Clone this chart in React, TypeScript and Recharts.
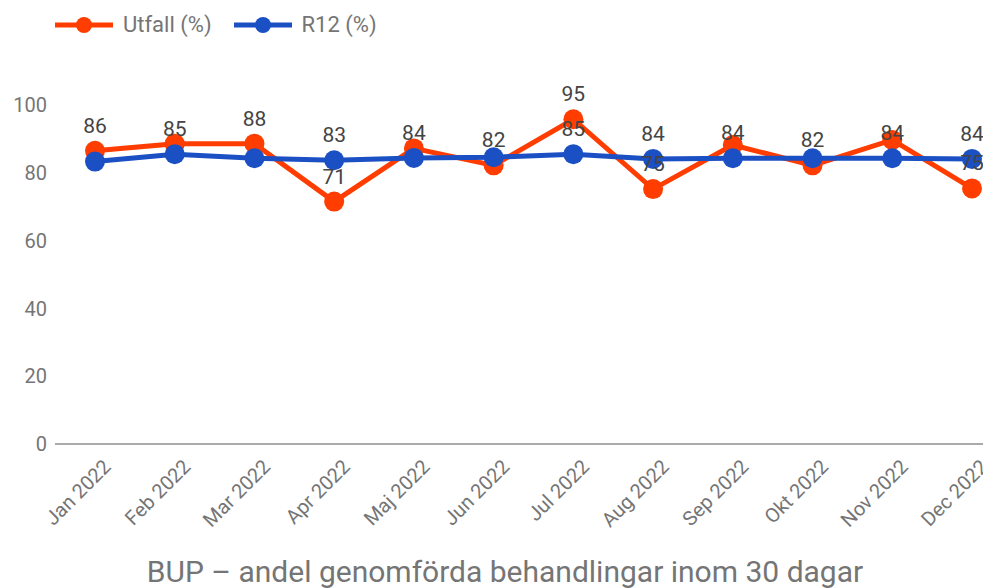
import { LineChart, Line, XAxis, YAxis, LabelList } from 'recharts'

const months = ['Jan 2022', 'Feb 2022', 'Mar 2022', 'Apr 2022', 'Maj 2022', 'Jun 2022', 'Jul 2022', 'Aug 2022', 'Sep 2022', 'Okt 2022', 'Nov 2022', 'Dec 2022']
const utfall = [86.5, 88.6, 88.6, 71.5, 87.2, 82.2, 95.8, 75.2, 88.2, 82.2, 89.7, 75.4]
const r12 = [83.3, 85.5, 84.3, 83.7, 84.4, 84.6, 85.5, 84.1, 84.3, 84.3, 84.3, 84.1]
// the original chart only annotates some of the points
const utfallLabels = ['86', null, '88', '71', null, '82', '95', '75', null, '82', null, '75']
const r12Labels = [null, '85', null, '83', '84', null, '85', '84', '84', null, '84', '84']
const yTicks = [0, 20, 40, 60, 80, 100]

const RED = '#FF3D00'
const BLUE = '#1B4FC4'
const GREY = '#757575'
const FONT = 'Roboto, sans-serif'

const data = months.map((month, i) => ({
  month,
  utfall: utfall[i],
  r12: r12[i],
  utfallLabel: utfallLabels[i],
  r12Label: r12Labels[i],
}))

function MonthTick({ x, y, payload }: any) {
  return (
    <text
      transform={`translate(${x + 17},${y + 24}) rotate(-45)`}
      textAnchor="end"
      fill={GREY}
      fontSize={20}
      fontFamily={FONT}
    >
      {payload.value}
    </text>
  )
}

function PointLabel({ x, y, value }: any) {
  if (value == null) return null
  return (
    <text x={x} y={y - 18} textAnchor="middle" fill="#444" fontSize={21} fontFamily={FONT}>
      {value}
    </text>
  )
}

function LegendItem({ color, label }: { color: string; label: string }) {
  return (
    <div style={{ display: 'flex', alignItems: 'center', marginRight: 22 }}>
      <svg width={58} height={20} style={{ marginRight: 10 }}>
        <line x1={0} y1={10} x2={58} y2={10} stroke={color} strokeWidth={5} />
        <circle cx={29} cy={10} r={8} fill={color} />
      </svg>
      <span style={{ color: GREY, fontSize: 22, fontFamily: FONT }}>{label}</span>
    </div>
  )
}

export default function App() {
  return (
    <div style={{ position: 'absolute', left: 0, top: 0, width: 983, height: 588, overflow: 'hidden', background: '#fff' }}>
      <div style={{ position: 'absolute', left: 55, top: 12, display: 'flex' }}>
        <LegendItem color={RED} label="Utfall (%)" />
        <LegendItem color={BLUE} label="R12 (%)" />
      </div>
      <LineChart width={1020} height={600} data={data} margin={{ top: 105, right: 8, bottom: 56, left: 0 }}>
        <XAxis
          dataKey="month"
          tick={<MonthTick />}
          tickLine={false}
          tickSize={0}
          tickMargin={0}
          height={100}
          interval={0}
          padding={{ left: 40, right: 40 }}
          axisLine={{ stroke: '#aaa', strokeWidth: 2 }}
        />
        <YAxis
          domain={[0, 100]}
          ticks={yTicks}
          width={55}
          axisLine={false}
          tickLine={false}
          tickSize={0}
          tickMargin={8}
          tick={{ fill: GREY, fontSize: 20, fontFamily: FONT }}
        />
        <Line
          dataKey="utfall"
          stroke={RED}
          strokeWidth={5}
          dot={{ r: 10, fill: RED, stroke: 'none' }}
          activeDot={false}
          isAnimationActive={false}
        />
        <Line
          dataKey="r12"
          stroke={BLUE}
          strokeWidth={5}
          dot={{ r: 10, fill: BLUE, stroke: 'none' }}
          activeDot={false}
          isAnimationActive={false}
        />
        {/* label-only series so annotations sit above both lines */}
        <Line dataKey="utfall" stroke="none" dot={false} activeDot={false} isAnimationActive={false}>
          <LabelList dataKey="utfallLabel" content={<PointLabel />} />
        </Line>
        <Line dataKey="r12" stroke="none" dot={false} activeDot={false} isAnimationActive={false}>
          <LabelList dataKey="r12Label" content={<PointLabel />} />
        </Line>
      </LineChart>
      <div
        style={{
          position: 'absolute',
          left: 0,
          width: 1010,
          top: 554,
          textAlign: 'center',
          color: GREY,
          fontSize: 30,
          fontFamily: FONT,
          whiteSpace: 'nowrap',
        }}
      >
        BUP – andel genomförda behandlingar inom 30 dagar
      </div>
    </div>
  )
}
